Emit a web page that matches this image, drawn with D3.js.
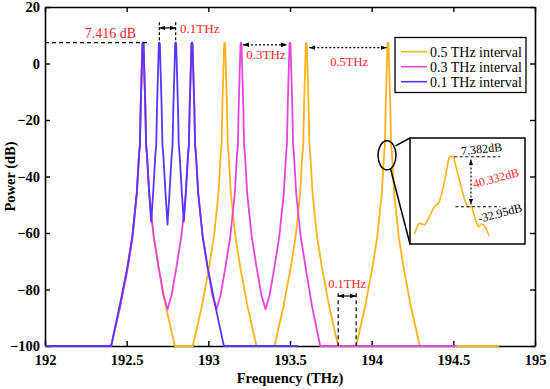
<!DOCTYPE html>
<html>
<head>
<meta charset="utf-8">
<script src="https://cdn.jsdelivr.net/npm/d3@7"></script>
<style>
  body { margin: 0; background: #fff; }
  svg { display: block; font-family: "Liberation Serif", "Times New Roman", serif; }
</style>
</head>
<body>
<script>
// axis ticks
var xTicks = [192, 192.5, 193, 193.5, 194, 194.5, 195];
var yTicks = [20, 0, -20, -40, -60, -80, -100];

var seriesNames = ["0.5 THz interval", "0.3 THz interval", "0.1 THz interval"];
var seriesColors = ["#ffb31a", "#e645dc", "#5a34ff"];

// [frequency THz, power dB]
var orange = [
  [192.0,-100],[192.405,-100],[192.46,-86],[192.505,-72],[192.535,-61],[192.562,-46],[192.576,-32],[192.581,-29],[192.586,-15],[192.592,-3],[192.597,7],[192.6,7.4],
  [192.603,7],[192.608,-3],[192.614,-15],[192.619,-29],[192.624,-32],[192.638,-46],[192.665,-61],[192.695,-72],[192.74,-86],[192.795,-100],
  [192.905,-100],[192.96,-86],[193.005,-72],[193.035,-61],[193.062,-46],[193.076,-32],[193.081,-29],[193.086,-15],[193.092,-3],[193.097,7],[193.1,7.4],
  [193.103,7],[193.108,-3],[193.114,-15],[193.119,-29],[193.124,-32],[193.138,-46],[193.165,-61],[193.195,-72],[193.24,-86],[193.295,-100],
  [193.405,-100],[193.46,-86],[193.505,-72],[193.535,-61],[193.562,-46],[193.576,-32],[193.581,-29],[193.586,-15],[193.592,-3],[193.597,7],[193.6,7.4],
  [193.603,7],[193.608,-3],[193.614,-15],[193.619,-29],[193.624,-32],[193.638,-46],[193.665,-61],[193.695,-72],[193.74,-86],[193.795,-100],
  [193.905,-100],[193.96,-86],[194.005,-72],[194.035,-61],[194.062,-46],[194.076,-32],[194.081,-29],[194.086,-15],[194.092,-3],[194.097,7],[194.1,7.38],
  [194.103,7],[194.108,-3],[194.114,-15],[194.119,-29],[194.124,-32],[194.138,-46],[194.165,-61],[194.195,-72],[194.24,-86],[194.295,-100],
  [194.78,-100]
];

var magenta = [
  [192.0,-100],[192.405,-100],[192.46,-86],[192.505,-73],[192.535,-62],[192.562,-46],[192.576,-32],[192.581,-29],[192.586,-15],[192.592,-3],[192.597,7],[192.6,7.4],
  [192.603,7],[192.608,-3],[192.614,-15],[192.619,-29],[192.624,-32],[192.638,-46],[192.665,-61],[192.695,-72],[192.725,-82],[192.75,-87],
  [192.775,-82],[192.805,-72],[192.835,-61],[192.862,-46],[192.876,-32],[192.881,-29],[192.886,-15],[192.892,-3],[192.897,7],[192.9,7.4],
  [192.903,7],[192.908,-3],[192.914,-15],[192.919,-29],[192.924,-32],[192.938,-46],[192.965,-61],[192.995,-72],[193.025,-82],[193.05,-87],
  [193.075,-82],[193.105,-72],[193.135,-61],[193.162,-46],[193.176,-32],[193.181,-29],[193.186,-15],[193.192,-3],[193.197,7],[193.2,7.4],
  [193.203,7],[193.208,-3],[193.214,-15],[193.219,-29],[193.224,-32],[193.238,-46],[193.265,-61],[193.295,-72],[193.325,-82],[193.35,-87],
  [193.375,-82],[193.405,-72],[193.435,-61],[193.462,-46],[193.476,-32],[193.481,-29],[193.486,-15],[193.492,-3],[193.497,7],[193.5,7.4],
  [193.503,7],[193.508,-3],[193.514,-15],[193.519,-29],[193.524,-32],[193.538,-46],[193.565,-61],[193.595,-72],[193.635,-86],[193.685,-100],
  [194.52,-100]
];

var blue = [
  [192.0,-100],[192.405,-100],[192.46,-85],[192.505,-72],[192.535,-61],[192.562,-46],[192.576,-32],[192.581,-29],[192.586,-15],[192.592,-3],[192.597,7],[192.6,7.416],
  [192.603,7],[192.608,-3],[192.614,-15],[192.619,-29],[192.624,-32],[192.638,-46],[192.65,-56],
  [192.662,-46],[192.676,-32],[192.681,-29],[192.686,-15],[192.692,-3],[192.697,7],[192.7,7.4],
  [192.703,7],[192.708,-3],[192.714,-15],[192.719,-29],[192.724,-32],[192.738,-46],[192.75,-57],
  [192.762,-46],[192.776,-32],[192.781,-29],[192.786,-15],[192.792,-3],[192.797,7],[192.8,7.4],
  [192.803,7],[192.808,-3],[192.814,-15],[192.819,-29],[192.824,-32],[192.838,-46],[192.85,-56],
  [192.862,-46],[192.876,-32],[192.881,-29],[192.886,-15],[192.892,-3],[192.897,7],[192.9,7.4],
  [192.903,7],[192.908,-3],[192.914,-15],[192.919,-29],[192.924,-32],[192.938,-46],[192.965,-61],[192.995,-72],[193.04,-85],[193.095,-100],
  [193.55,-100]
];

// zoomed single line in the inset
var insetCurve = [
  [194.0685,-54.9],[194.0708,-50.4],[194.0731,-46.3],[194.0754,-46.9],[194.0778,-47.5],[194.0801,-44.2],[194.083,-38.8],[194.0853,-34.2],
  [194.0876,-31.8],[194.09,-29.7],[194.0922,-23.5],[194.0946,-14.1],[194.0969,-3.3],[194.0986,5.3],[194.0995,7.382],[194.103,7.382],
  [194.1039,3.3],[194.1056,-2.8],[194.1073,-8.7],[194.109,-15.4],[194.1114,-23.5],[194.1137,-30.2],[194.1154,-32.95],[194.1183,-32.95],
  [194.1207,-39.6],[194.123,-46.3],[194.1247,-49.1],[194.127,-46.9],[194.1293,-47.7],[194.1317,-51.7],[194.134,-56.6]
];

var width = 550, height = 389;
var red = "#ff2424";

var svg = d3.select("body").append("svg")
  .attr("width", width)
  .attr("height", height);

var x = d3.scaleLinear().domain([192, 195]).range([45, 535]);
var y = d3.scaleLinear().domain([-100, 20]).range([346, 7]);

// markers
var defs = svg.append("defs");
defs.append("marker")
  .attr("id", "arr")
  .attr("viewBox", "0 0 8 6")
  .attr("refX", 8).attr("refY", 3)
  .attr("markerWidth", 6).attr("markerHeight", 5)
  .attr("markerUnits", "userSpaceOnUse")
  .attr("orient", "auto-start-reverse")
  .append("path").attr("d", "M0,0L8,3L0,6Z").attr("fill", "#000");

// axes, ticks pointing inward
var fmt = d3.format("");
svg.append("g").attr("transform", "translate(0," + y(-100) + ")")
  .call(d3.axisBottom(x).tickValues(xTicks).tickSize(-5).tickSizeOuter(0).tickPadding(9).tickFormat(fmt));
svg.append("g").attr("transform", "translate(0," + y(20) + ")")
  .call(d3.axisTop(x).tickValues(xTicks).tickSize(-5).tickSizeOuter(0).tickFormat(""));
svg.append("g").attr("transform", "translate(" + x(192) + ",0)")
  .call(d3.axisLeft(y).tickValues(yTicks).tickSize(-5).tickSizeOuter(0).tickPadding(5).tickFormat(fmt));
svg.append("g").attr("transform", "translate(" + x(195) + ",0)")
  .call(d3.axisRight(y).tickValues(yTicks).tickSize(-5).tickSizeOuter(0).tickFormat(""));

svg.selectAll(".domain").attr("stroke", "#000").attr("stroke-width", 1.6);
svg.selectAll(".tick line").attr("stroke", "#000").attr("stroke-width", 1.4);
svg.selectAll(".tick text")
  .attr("font-family", "Liberation Serif, Times New Roman, serif")
  .attr("font-weight", "bold")
  .attr("font-size", 14.5)
  .attr("fill", "#000");

svg.append("text")
  .attr("x", (x(192) + x(195)) / 2).attr("y", 383)
  .attr("text-anchor", "middle")
  .attr("font-weight", "bold").attr("font-size", 14.5)
  .text("Frequency (THz)");

svg.append("text")
  .attr("transform", "translate(15," + ((y(20) + y(-100)) / 2) + ") rotate(-90)")
  .attr("text-anchor", "middle")
  .attr("font-weight", "bold").attr("font-size", 14.5)
  .text("Power (dB)");

// spectra
var line = d3.line().x(d => x(d[0])).y(d => y(d[1]));
[orange, magenta, blue].forEach(function (s, i) {
  svg.append("path")
    .datum(s)
    .attr("d", line)
    .attr("fill", "none")
    .attr("stroke", seriesColors[i])
    .attr("stroke-width", 1.8)
    .attr("stroke-linejoin", "round");
});

// annotations
var ann = svg.append("g");
function seg(x1, y1, x2, y2, dash, arrows) {
  var l = ann.append("line")
    .attr("x1", x1).attr("y1", y1).attr("x2", x2).attr("y2", y2)
    .attr("stroke", "#000").attr("stroke-width", 1.2);
  if (dash) l.attr("stroke-dasharray", dash);
  if (arrows) l.attr("marker-start", "url(#arr)").attr("marker-end", "url(#arr)");
  return l;
}
function label(tx, ty, txt, size, color, anchor, rot) {
  var t = ann.append("text")
    .attr("x", tx).attr("y", ty)
    .attr("font-size", size)
    .attr("fill", color)
    .attr("text-anchor", anchor || "middle")
    .text(txt);
  if (rot) t.attr("transform", "rotate(" + rot + "," + tx + "," + ty + ")");
  return t;
}

// peak level
seg(x(192), y(7.416), x(192.64), y(7.416), "4,3");
label(x(192.4), y(9.1), "7.416 dB", 14, red);

// 0.1 THz spacing at top
seg(x(192.7), y(14.6), x(192.7), y(7.4), "3,2");
seg(x(192.8), y(14.6), x(192.8), y(7.4), "3,2");
seg(x(192.7), y(12.6), x(192.8), y(12.6), null, true);
label(x(192.827), y(10.7), "0.1THz", 13, red, "start");

// 0.3 THz
seg(x(193.212), y(6.6), x(193.482), y(6.6), "2,2", true);
label(x(193.353), y(1.5), "0.3THz", 13, red);

// 0.5 THz
seg(x(193.618), y(5.6), x(194.092), y(5.6), "2,2", true);
label(x(193.862), y(-0.9), "0.5THz", 12.5, red);

// 0.1 THz gap at the floor
seg(x(193.795), y(-81.3), x(193.795), y(-100), "4,3");
seg(x(193.905), y(-81.3), x(193.905), y(-100), "4,3");
seg(x(193.795), y(-82.3), x(193.905), y(-82.3), null, true);
label(x(193.85), y(-79.4), "0.1THz", 12.5, red);

// legend
var lg = svg.append("g");
lg.append("rect")
  .attr("x", 395).attr("y", 37.5).attr("width", 131).attr("height", 55)
  .attr("fill", "#fff").attr("stroke", "#000").attr("stroke-width", 1.3);
seriesNames.forEach(function (n, i) {
  var ly = 51.7 + i * 15;
  lg.append("line").attr("x1", 401).attr("x2", 427).attr("y1", ly).attr("y2", ly)
    .attr("stroke", seriesColors[i]).attr("stroke-width", 1.6);
  lg.append("text").attr("x", 430).attr("y", ly + 4.8)
    .attr("font-size", 14).attr("fill", "#000").text(n);
});

// zoom ellipse + inset
var ix = d3.scaleLinear().domain([194.065, 194.165]).range([410, 525]);
var iy = d3.scaleLinear().domain([-63, 22.5]).range([244, 138]);

var ex = x(194.1) - 1, ey = y(-32.5);
ann.append("ellipse").attr("cx", ex).attr("cy", ey).attr("rx", 9).attr("ry", 14.5)
  .attr("fill", "none").attr("stroke", "#000").attr("stroke-width", 1.5);
seg(ex + 8.5, ey - 9.5, ix.range()[0], iy.range()[1]).attr("stroke-width", 1.5);
seg(ex + 3.5, ey + 13.5, ix.range()[0], iy.range()[0]).attr("stroke-width", 1.5);

ann.append("rect")
  .attr("x", ix.range()[0]).attr("y", iy.range()[1])
  .attr("width", ix.range()[1] - ix.range()[0]).attr("height", iy.range()[0] - iy.range()[1])
  .attr("fill", "#fff").attr("stroke", "#000").attr("stroke-width", 1.5);

ann.append("path")
  .datum(insetCurve)
  .attr("d", d3.line().x(d => ix(d[0])).y(d => iy(d[1])).curve(d3.curveMonotoneX))
  .attr("fill", "none").attr("stroke", seriesColors[0]).attr("stroke-width", 1.6);

seg(ix(194.1035), iy(7.382), ix(194.1435), iy(7.382), "3,2.5");
seg(ix(194.1045), iy(-32.95), ix(194.1435), iy(-32.95), "3,2.5");
seg(ix(194.118), iy(5.2), ix(194.118), iy(-31.2), "2,2", true);
label(482, 153, "7.382dB", 12, "#000", "middle", -6);
label(497, 182, "40.332dB", 12, red, "middle", -15);
label(501, 217, "-32.95dB", 12, "#000", "middle", -15);
</script>
</body>
</html>
